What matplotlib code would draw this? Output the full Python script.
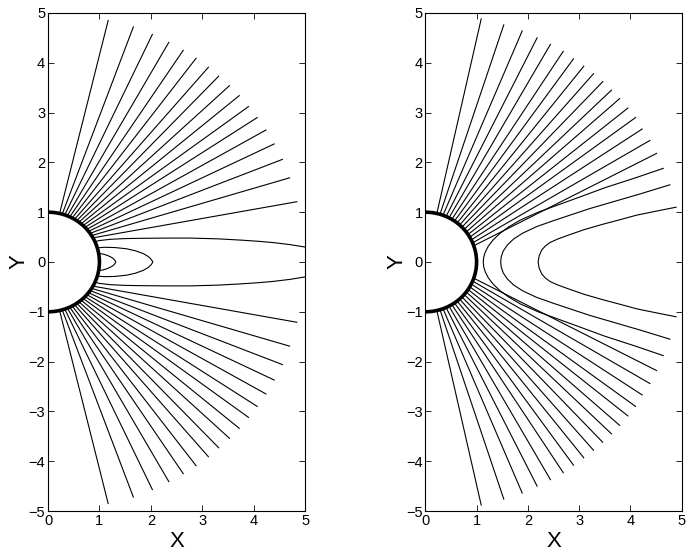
import matplotlib
matplotlib.use("Agg")
import matplotlib.pyplot as plt
from matplotlib.patches import Arc
import numpy as np

plt.rcParams['font.family'] = ['Liberation Sans', 'DejaVu Sans']

# ---- left panel, upper half (lower half is the mirror image) ----
left_x0 = [0.225, 0.276, 0.326, 0.375, 0.423, 0.469, 0.515, 0.559, 0.602,
           0.643, 0.682, 0.719, 0.755, 0.788, 0.819, 0.848, 0.875]
left_y0 = [0.974, 0.961, 0.946, 0.927, 0.906, 0.883, 0.857, 0.829, 0.799,
           0.766, 0.731, 0.695, 0.656, 0.616, 0.574, 0.530, 0.485]
left_x1 = [1.17, 1.66, 2.03, 2.35, 2.63, 2.88, 3.12, 3.32, 3.53,
           3.72, 3.90, 4.07, 4.24, 4.40, 4.56, 4.70, 4.84]
left_y1 = [4.85, 4.72, 4.57, 4.41, 4.25, 4.09, 3.91, 3.73, 3.54,
           3.34, 3.12, 2.90, 2.65, 2.37, 2.06, 1.69, 1.21]

# open curve that leaves the box on the right
big_x = [0.914, 1.0, 1.21, 1.5, 1.79, 2.3, 2.76, 3.3, 3.74, 4.1, 4.38, 4.7, 5.0]
big_y = [0.407, 0.43, 0.455, 0.47, 0.475, 0.48, 0.48, 0.465, 0.44, 0.415,
         0.39, 0.35, 0.30]
# closed loops (upper half, back to y=0)
loop1_x = [0.96, 1.1, 1.3, 1.53, 1.7, 1.85, 1.95, 2.01, 2.04]
loop1_y = [0.285, 0.295, 0.29, 0.265, 0.225, 0.17, 0.11, 0.05, 0.0]
loop2_x = [0.985, 1.07, 1.16, 1.24, 1.29, 1.32]
loop2_y = [0.17, 0.16, 0.13, 0.09, 0.05, 0.0]

# ---- right panel, upper half ----
right_x0 = [0.225, 0.286, 0.345, 0.405, 0.462, 0.517, 0.569, 0.621, 0.669,
            0.714, 0.757, 0.797, 0.834, 0.867, 0.897, 0.923, 0.946]
right_y0 = [0.974, 0.958, 0.938, 0.914, 0.887, 0.856, 0.822, 0.784, 0.743,
            0.700, 0.653, 0.603, 0.552, 0.498, 0.443, 0.384, 0.326]
right_x1 = [1.09, 1.53, 1.89, 2.18, 2.44, 2.69, 2.89, 3.09, 3.28,
            3.46, 3.63, 3.79, 3.95, 4.10, 4.23, 4.38, 4.51]
right_y1 = [4.88, 4.76, 4.64, 4.50, 4.37, 4.23, 4.08, 3.93, 3.78,
            3.62, 3.45, 3.28, 3.09, 2.90, 2.67, 2.44, 2.18]

# curves that turn round on the axis (vertex first)
hyp1_x = [1.13, 1.14, 1.17, 1.23, 1.32, 1.45, 1.62, 1.85, 2.2, 2.6, 3.0,
          3.5, 4.1, 4.64]
hyp1_y = [0.0, 0.1, 0.2, 0.32, 0.44, 0.57, 0.70, 0.84, 1.00, 1.15, 1.30,
          1.49, 1.69, 1.88]
hyp2_x = [1.47, 1.48, 1.52, 1.6, 1.72, 1.9, 2.17, 2.5, 2.82, 3.2, 3.6, 4.2,
          4.77]
hyp2_y = [0.0, 0.1, 0.22, 0.34, 0.46, 0.58, 0.71, 0.83, 0.94, 1.07, 1.19,
          1.37, 1.55]
hyp3_x = [2.20, 2.22, 2.27, 2.34, 2.43, 2.58, 2.82, 3.1, 3.47, 3.8, 4.12,
          4.5, 4.89]
hyp3_y = [0.0, 0.12, 0.24, 0.32, 0.39, 0.46, 0.55, 0.65, 0.76, 0.85, 0.94,
          1.02, 1.10]

lw = 0.8


def mirrored(xs, ys):
    # upper half + reflected lower half as one curve
    xs = np.asarray(xs)
    ys = np.asarray(ys)
    return np.r_[xs, xs[::-1]], np.r_[ys, -ys[::-1]]


def setup(ax):
    ax.set_xlim(0, 5)
    ax.set_ylim(-5, 5)
    ax.set_xticks(range(0, 6))
    ax.set_yticks(range(-5, 6))
    ax.set_yticklabels(['\u22125', '\u22124', '\u22123', '\u22122', '\u22121',
                        '0', '1', '2', '3', '4', '5'])
    ax.tick_params(direction='in', length=4.5, width=0.6, top=True, right=True,
                   labelsize=10.5, pad=2)
    for s in ax.spines.values():
        s.set_linewidth(0.8)
    ax.set_xlabel('X', fontsize=16, labelpad=2)
    ax.set_ylabel('Y', fontsize=16, labelpad=-1)
    ax.add_patch(Arc((0, 0), 2, 2, theta1=-90, theta2=90, color='black',
                     linewidth=2.6, zorder=5))


fig = plt.figure(figsize=(6.92, 5.54), dpi=100)
ax1 = fig.add_axes([0.0694, 0.0776, 0.3714, 0.899])
ax2 = fig.add_axes([0.6146, 0.0776, 0.3705, 0.899])

for ax, x0, y0, x1, y1 in [(ax1, left_x0, left_y0, left_x1, left_y1),
                           (ax2, right_x0, right_y0, right_x1, right_y1)]:
    for a, b, c, d in zip(x0, y0, x1, y1):
        ax.plot([a, c], [b, d], color='black', linewidth=lw)
        ax.plot([a, c], [-b, -d], color='black', linewidth=lw)

ax1.plot(big_x, big_y, color='black', linewidth=lw)
ax1.plot(big_x, [-v for v in big_y], color='black', linewidth=lw)
for xs, ys in [(loop1_x, loop1_y), (loop2_x, loop2_y)]:
    mx, my = mirrored(xs, ys)
    ax1.plot(mx, my, color='black', linewidth=lw)

for xs, ys in [(hyp1_x, hyp1_y), (hyp2_x, hyp2_y), (hyp3_x, hyp3_y)]:
    mx, my = mirrored(xs[::-1], ys[::-1])
    ax2.plot(mx, -my, color='black', linewidth=lw)

setup(ax1)
setup(ax2)

fig.savefig('out.png', dpi=100)
